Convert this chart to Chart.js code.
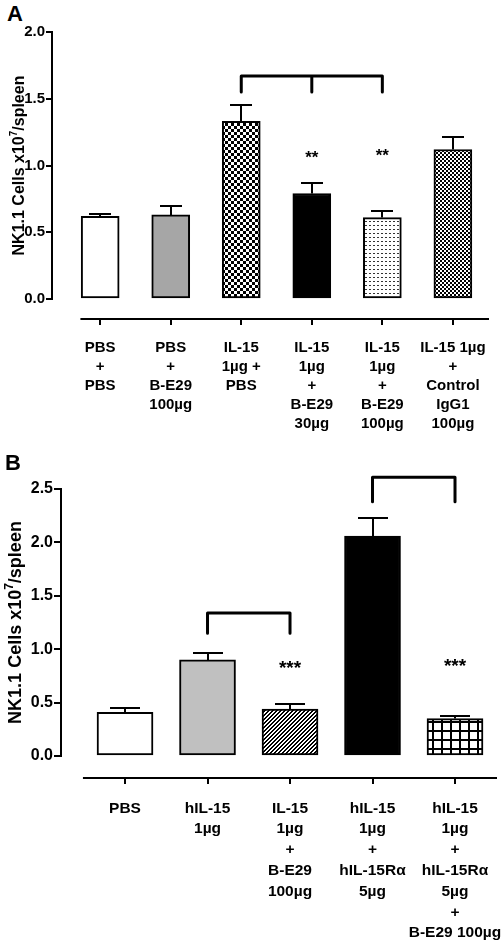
<!DOCTYPE html>
<html>
<head>
<meta charset="UTF-8">
<title>NK1.1 cells per spleen</title>
<script src="https://cdn.jsdelivr.net/npm/chart.js@4.4.1/dist/chart.umd.min.js"></script>
<style>
  body { margin: 0; background: #fff; }
  #wrap { position: relative; width: 502px; height: 940px; }
  canvas { position: absolute; left: 0; }
  .tag { position: absolute; font: bold 22px "Liberation Sans", Arial, sans-serif; }
</style>
</head>
<body>
<div id="wrap">
  <div class="tag" style="left:7px;top:1px">A</div>
  <canvas id="chartA" width="502" height="460" style="top:0"></canvas>
  <div class="tag" style="left:5px;top:450px">B</div>
  <canvas id="chartB" width="502" height="480" style="top:460px"></canvas>
</div>
<script>
// panel A data
const labelsA = [
  ['PBS', '+', 'PBS'],
  ['PBS', '+', 'B-E29', '100µg'],
  ['IL-15', '1µg +', 'PBS'],
  ['IL-15', '1µg', '+', 'B-E29', '30µg'],
  ['IL-15', '1µg', '+', 'B-E29', '100µg'],
  ['IL-15 1µg', '+', 'Control', 'IgG1', '100µg']
];
const valuesA = [0.62, 0.63, 1.33, 0.79, 0.61, 1.12];
const errorsA = [0.02, 0.07, 0.12, 0.08, 0.05, 0.09];
const starsA  = ['', '', '', '**', '**', ''];
const starAtA = [0, 0, 0, 1.09, 1.11, 0];
const bracketsA = [{ from: 2, to: 4, mid: [3], top: 1.67, foot: 1.55 }];
const ticksA = [0, 0.5, 1.0, 1.5, 2.0];

// panel B data
const labelsB = [
  ['PBS'],
  ['hIL-15', '1µg'],
  ['IL-15', '1µg', '+', 'B-E29', '100µg'],
  ['hIL-15', '1µg', '+', 'hIL-15Rα', '5µg'],
  ['hIL-15', '1µg', '+', 'hIL-15Rα', '5µg', '+', 'B-E29 100µg']
];
const valuesB = [0.41, 0.90, 0.44, 2.06, 0.35];
const errorsB = [0.04, 0.06, 0.05, 0.17, 0.02];
const starsB  = ['', '', '***', '', '***'];
const starAtB = [0, 0, 0.87, 0, 0.89];
const bracketsB = [
  { from: 1, to: 2, top: 1.34, foot: 1.15 },
  { from: 3, to: 4, top: 2.61, foot: 2.38 }
];
const ticksB = [0, 0.5, 1.0, 1.5, 2.0, 2.5];

const FONT = '"Liberation Sans", Arial, sans-serif';

// fill patterns
function tile(w, h, draw) {
  const c = document.createElement('canvas');
  c.width = w; c.height = h;
  const g = c.getContext('2d');
  g.fillStyle = '#fff'; g.fillRect(0, 0, w, h);
  g.fillStyle = '#000';
  draw(g);
  return g.createPattern(c, 'repeat');
}
const checkerBig = tile(6, 6, g => { g.fillRect(0, 0, 3, 3); g.fillRect(3, 3, 3, 3); });
const checkerFine = tile(4, 4, g => { g.fillRect(0, 0, 2, 2); g.fillRect(2, 2, 2, 2); });
const dots = tile(4, 4, g => { g.fillStyle = '#333'; g.fillRect(1, 1, 2, 1); });
const hatch = tile(4, 4, g => {
  for (let px = 0; px < 4; px++) for (let py = 0; py < 4; py++)
    if ((px + py) % 4 >= 2) g.fillRect(px, py, 1, 1);
});
const grid = tile(9, 9, g => { g.fillRect(0, 0, 9, 2); g.fillRect(0, 0, 2, 9); });

const fillsA = ['#ffffff', '#a6a6a6', checkerBig, '#000000', dots, checkerFine];
const fillsB = ['#ffffff', '#c0c0c0', hatch, '#000000', grid];

// error bars, offset x axis, brackets, stars, y title
function overlay(o) {
  return {
    id: 'overlay',
    afterDraw(chart) {
      const ctx = chart.ctx, x = chart.scales.x, y = chart.scales.y, area = chart.chartArea;
      ctx.save();
      ctx.strokeStyle = '#000';
      ctx.fillStyle = '#000';
      ctx.lineWidth = 2;
      o.values.forEach((v, i) => {
        const cx = Math.round(x.getPixelForValue(i));
        const y0 = y.getPixelForValue(v), y1 = Math.round(y.getPixelForValue(v + o.errors[i]));
        ctx.beginPath();
        ctx.moveTo(cx, y0); ctx.lineTo(cx, y1);
        ctx.moveTo(cx - o.cap / 2, y1); ctx.lineTo(cx + o.cap / 2, y1);
        ctx.stroke();
      });
      const ay = area.bottom + o.axisGap;
      ctx.beginPath();
      ctx.moveTo(x.getPixelForValue(o.axisFrom), ay);
      ctx.lineTo(x.getPixelForValue(o.axisTo), ay);
      o.values.forEach((v, i) => {
        const cx = Math.round(x.getPixelForValue(i));
        ctx.moveTo(cx, ay); ctx.lineTo(cx, ay + 6);
      });
      ctx.stroke();

      ctx.lineWidth = 3; ctx.lineCap = 'round'; ctx.lineJoin = 'round';
      o.brackets.forEach(b => {
        const l = x.getPixelForValue(b.from), r = x.getPixelForValue(b.to);
        const t = y.getPixelForValue(b.top), d = y.getPixelForValue(b.foot);
        ctx.beginPath();
        ctx.moveTo(l, d); ctx.lineTo(l, t); ctx.lineTo(r, t); ctx.lineTo(r, d);
        (b.mid || []).forEach(m => {
          const mx = x.getPixelForValue(m);
          ctx.moveTo(mx, t); ctx.lineTo(mx, d);
        });
        ctx.stroke();
      });

      // asterisks: glyph centre sits ~0.57em above the baseline
      ctx.font = 'bold ' + o.starSize + 'px ' + FONT;
      ctx.textAlign = 'center'; ctx.textBaseline = 'alphabetic';
      o.stars.forEach((s, i) => {
        if (s) ctx.fillText(s, x.getPixelForValue(i), y.getPixelForValue(o.starAt[i]) + o.starSize * 0.57);
      });

      // rotated axis title with superscript 7
      const main = 'bold ' + o.titleSize + 'px ' + FONT;
      const sup = 'bold ' + Math.round(o.titleSize * 0.65) + 'px ' + FONT;
      const p1 = 'NK1.1 Cells x10', p2 = '7', p3 = '/spleen';
      ctx.font = main; const w1 = ctx.measureText(p1).width, w3 = ctx.measureText(p3).width;
      ctx.font = sup; const w2 = ctx.measureText(p2).width;
      ctx.translate(o.titleX, (area.top + area.bottom) / 2);
      ctx.rotate(-Math.PI / 2);
      ctx.textAlign = 'left';
      let sx = -(w1 + w2 + w3) / 2;
      ctx.font = main; ctx.fillText(p1, sx, 0); sx += w1;
      ctx.font = sup; ctx.fillText(p2, sx, -o.titleSize * 0.45); sx += w2;
      ctx.font = main; ctx.fillText(p3, sx, 0);
      ctx.restore();
    }
  };
}

function makeChart(id, c) {
  const H = document.getElementById(id).height;
  return new Chart(document.getElementById(id), {
    type: 'bar',
    data: {
      datasets: [{
        data: c.values.map((v, i) => ({ x: i, y: v })),
        backgroundColor: c.fills,
        borderColor: '#000',
        borderWidth: 2,
        borderSkipped: false,
        barThickness: c.barWidth
      }]
    },
    options: {
      responsive: false,
      animation: false,
      events: [],
      layout: { padding: { top: c.top, right: c.right, left: 0, bottom: 0 } },
      plugins: { legend: { display: false }, tooltip: { enabled: false } },
      scales: {
        x: {
          type: 'linear',
          min: c.xMin, max: c.xMax,
          offset: false,
          grid: { display: false, drawTicks: false },
          border: { display: false },
          afterBuildTicks: s => { s.ticks = c.labels.map((l, i) => ({ value: i })); },
          afterFit: s => { s.height = H - c.bottom; s.paddingLeft = 0; s.paddingRight = 0; },
          ticks: {
            autoSkip: false, maxRotation: 0, minRotation: 0,
            padding: c.xPad,
            color: '#000',
            font: { family: FONT, size: c.xFont, weight: 'bold', lineHeight: c.xLine },
            callback: v => c.labels[v]
          }
        },
        y: {
          min: 0, max: c.ticks[c.ticks.length - 1],
          afterBuildTicks: s => { s.ticks = c.ticks.map(v => ({ value: v })); },
          afterFit: s => { s.width = c.left; s.paddingTop = 0; s.paddingBottom = 0; },
          grid: { drawOnChartArea: false, drawTicks: true, tickLength: c.tickLen, color: '#000', lineWidth: 2 },
          border: { display: true, color: '#000', width: 2 },
          ticks: {
            padding: 1,
            color: '#000',
            font: { family: FONT, size: c.yFont, weight: 'bold' },
            callback: v => v.toFixed(1)
          }
        }
      }
    },
    plugins: [overlay(c)]
  });
}

makeChart('chartA', {
  labels: labelsA, values: valuesA, errors: errorsA, fills: fillsA, ticks: ticksA,
  stars: starsA, starAt: starAtA, brackets: bracketsA,
  top: 32, bottom: 299, left: 52, right: 13,
  xMin: -0.683, xMax: 5.512, barWidth: 38, cap: 22,
  xPad: 39, xFont: 15, xLine: 1.27, yFont: 15, tickLen: 6,
  axisGap: 20, axisFrom: -0.28, axisTo: 5.512,
  starSize: 17, titleSize: 16, titleX: 24
});

makeChart('chartB', {
  labels: labelsB, values: valuesB, errors: errorsB, fills: fillsB, ticks: ticksB,
  stars: starsB, starAt: starAtB, brackets: bracketsB,
  top: 29, bottom: 296, left: 61, right: 5,
  xMin: -0.776, xMax: 4.509, barWidth: 56, cap: 30,
  xPad: 42, xFont: 15.5, xLine: 1.34, yFont: 16, tickLen: 7,
  axisGap: 22, axisFrom: -0.51, axisTo: 4.509,
  starSize: 19, titleSize: 18, titleX: 21
});
</script>
</body>
</html>
